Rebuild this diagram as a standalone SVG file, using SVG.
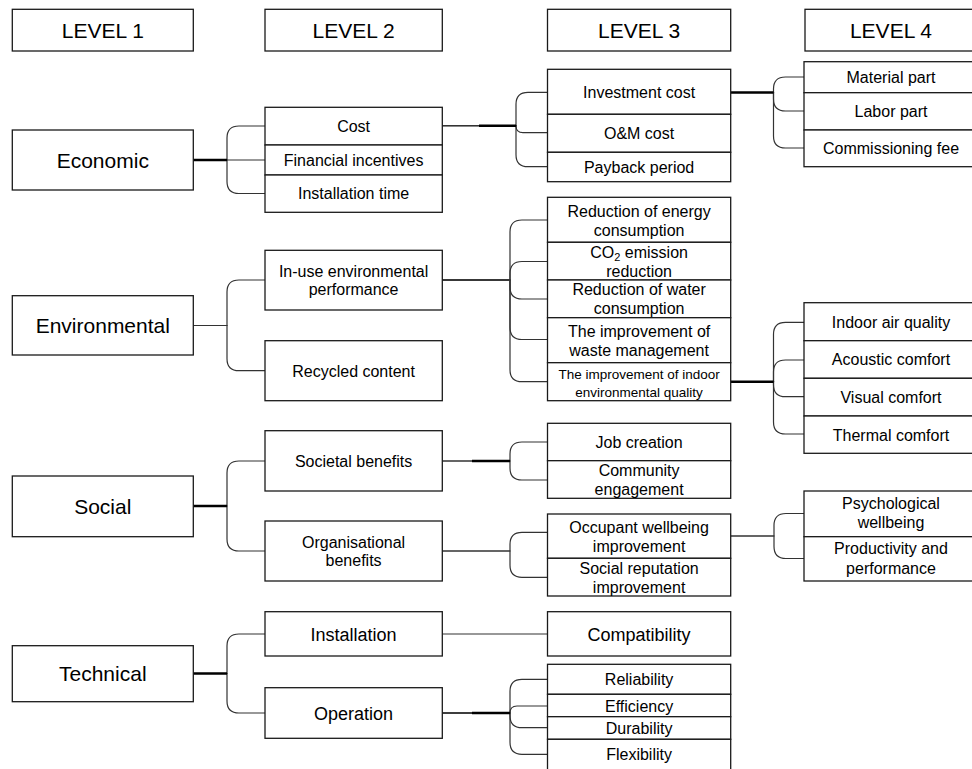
<svg xmlns="http://www.w3.org/2000/svg" width="972" height="769" viewBox="0 0 972 769">
<style>
.box{fill:#fff;stroke:#1a1a1a;stroke-width:1.3}
.t{font-family:"Liberation Sans",Arial,sans-serif;fill:#000;text-anchor:middle}
.h{font-size:21px}
.l1{font-size:21px}
.m{font-size:16px}
.b{font-size:18px}
.s{font-size:13.5px}
.c{fill:none;stroke:#333;stroke-width:1.2}
.k{fill:none;stroke:#000;stroke-width:2.4}
</style>
<rect width="972" height="769" fill="#fff"/>
<g id="connectors">
<path class="c" d="M193 160 H227 V138 Q227 126 239 126 H265"/>
<path class="c" d="M193 160 H265"/>
<path class="c" d="M193 160 H227 V181.5 Q227 193.5 239 193.5 H265"/>
<path class="c" d="M193 325.5 H227 V292 Q227 280 239 280 H265"/>
<path class="c" d="M193 325.5 H227 V358.7 Q227 370.7 239 370.7 H265"/>
<path class="c" d="M193 506 H227 V473 Q227 461 239 461 H265"/>
<path class="c" d="M193 506 H227 V539 Q227 551 239 551 H265"/>
<path class="c" d="M193 673.5 H227 V646 Q227 634 239 634 H265"/>
<path class="c" d="M193 673.5 H227 V701 Q227 713 239 713 H265"/>
<path class="c" d="M442 125.7 H516 V104.3 Q516 92.3 528 92.3 H547.5"/>
<path class="c" d="M442 125.7 H516 Q516 132.7 523 132.7 H547.5"/>
<path class="c" d="M442 125.7 H516 V154.7 Q516 166.7 528 166.7 H547.5"/>
<path class="c" d="M442 280 H510 V232 Q510 220 522 220 H547.5"/>
<path class="c" d="M442 280 H510 V273.5 Q510 261.5 522 261.5 H547.5"/>
<path class="c" d="M442 280 H510 V287 Q510 299 522 299 H547.5"/>
<path class="c" d="M442 280 H510 V327.5 Q510 339.5 522 339.5 H547.5"/>
<path class="c" d="M442 280 H510 V369.7 Q510 381.7 522 381.7 H547.5"/>
<path class="c" d="M442 461 H510 V454 Q510 442 522 442 H547.5"/>
<path class="c" d="M442 461 H510 V468 Q510 480 522 480 H547.5"/>
<path class="c" d="M442 551 H510 V544.3 Q510 532.3 522 532.3 H547.5"/>
<path class="c" d="M442 551 H510 V565.3 Q510 577.3 522 577.3 H547.5"/>
<path class="c" d="M442 634 H547.5"/>
<path class="c" d="M442 713 H510 V691.3 Q510 679.3 522 679.3 H547.5"/>
<path class="c" d="M442 713 H510 Q510 706 517 706 H547.5"/>
<path class="c" d="M442 713 H510 V715.7 Q510 727.7 522 727.7 H547.5"/>
<path class="c" d="M442 713 H510 V742.3 Q510 754.3 522 754.3 H547.5"/>
<path class="c" d="M730.7 92.5 H773.5 V89 Q773.5 77 785.5 77 H804"/>
<path class="c" d="M730.7 92.5 H773.5 V99 Q773.5 111 785.5 111 H804"/>
<path class="c" d="M730.7 92.5 H773.5 V136 Q773.5 148 785.5 148 H804"/>
<path class="c" d="M730.7 381.7 H773.5 V334.3 Q773.5 322.3 785.5 322.3 H804"/>
<path class="c" d="M730.7 381.7 H773.5 V372 Q773.5 360 785.5 360 H804"/>
<path class="c" d="M730.7 381.7 H773.5 V384.7 Q773.5 396.7 785.5 396.7 H804"/>
<path class="c" d="M730.7 381.7 H773.5 V422 Q773.5 434 785.5 434 H804"/>
<path class="c" d="M730.7 536 H774 V525.5 Q774 513.5 786 513.5 H804"/>
<path class="c" d="M730.7 536 H774 V546.5 Q774 558.5 786 558.5 H804"/>
<path class="k" d="M193 160 H227 M193 506 H227 M193 673.5 H227 M479 125.7 H516 M472 461 H510 M472 713 H510 M730.7 92.5 H773.5 M730.7 381.7 H773.5"/>
</g>
<g id="hdr1"><rect class="box" x="12.3" y="9.3" width="181" height="41.7"/><text class="t h" x="102.8" y="37.6">LEVEL 1</text></g>
<g id="hdr2"><rect class="box" x="265" y="9.3" width="177.3" height="41.7"/><text class="t h" x="353.6" y="37.6">LEVEL 2</text></g>
<g id="hdr3"><rect class="box" x="547.5" y="9.3" width="183.2" height="41.7"/><text class="t h" x="639.1" y="37.6">LEVEL 3</text></g>
<g id="hdr4"><rect class="box" x="805" y="9.3" width="175" height="41.7"/><text class="t h" x="891" y="37.6">LEVEL 4</text></g>
<g id="economic"><rect class="box" x="12.3" y="130" width="181" height="60"/><text class="t l1" x="102.8" y="167.5">Economic</text></g>
<g id="environmental"><rect class="box" x="12.3" y="295.7" width="181" height="59.3"/><text class="t l1" x="102.8" y="333">Environmental</text></g>
<g id="social"><rect class="box" x="12.3" y="476" width="181" height="60.7"/><text class="t l1" x="102.8" y="513.5">Social</text></g>
<g id="technical"><rect class="box" x="12.3" y="645.7" width="181" height="56"/><text class="t l1" x="102.8" y="681">Technical</text></g>
<g id="cost"><rect class="box" x="265" y="107.3" width="177.3" height="37.7"/><text class="t m" x="353.6" y="131.8">Cost</text></g>
<g id="financial"><rect class="box" x="265" y="145" width="177.3" height="30"/><text class="t m" x="353.6" y="165.8">Financial incentives</text></g>
<g id="installtime"><rect class="box" x="265" y="175" width="177.3" height="37.3"/><text class="t m" x="353.6" y="199.3">Installation time</text></g>
<g id="inuse"><rect class="box" x="265" y="250.3" width="177.3" height="59.7"/><text class="t m" x="353.6" y="276.8">In-use environmental</text><text class="t m" x="353.6" y="294.8">performance</text></g>
<g id="recycled"><rect class="box" x="265" y="340.7" width="177.3" height="60"/><text class="t m" x="353.6" y="376.5">Recycled content</text></g>
<g id="societal"><rect class="box" x="265" y="430.7" width="177.3" height="60.3"/><text class="t m" x="353.6" y="466.8">Societal benefits</text></g>
<g id="organisational"><rect class="box" x="265" y="521" width="177.3" height="60"/><text class="t m" x="353.6" y="547.5">Organisational</text><text class="t m" x="353.6" y="565.8">benefits</text></g>
<g id="installation"><rect class="box" x="265" y="611.7" width="177.3" height="44.3"/><text class="t b" x="353.6" y="640.5">Installation</text></g>
<g id="operation"><rect class="box" x="265" y="687.7" width="177.3" height="50.6"/><text class="t b" x="353.6" y="719.5">Operation</text></g>
<g id="investment"><rect class="box" x="547.5" y="69.3" width="183.2" height="45"/><text class="t m" x="639.1" y="97.8">Investment cost</text></g>
<g id="om"><rect class="box" x="547.5" y="114.3" width="183.2" height="38"/><text class="t m" x="639.1" y="138.8">O&amp;M cost</text></g>
<g id="payback"><rect class="box" x="547.5" y="152.3" width="183.2" height="29.4"/><text class="t m" x="639.1" y="172.5">Payback period</text></g>
<g id="energy"><rect class="box" x="547.5" y="197.3" width="183.2" height="45"/><text class="t m" x="639.1" y="216.5">Reduction of energy</text><text class="t m" x="639.1" y="235.8">consumption</text></g>
<g id="co2"><rect class="box" x="547.5" y="242.3" width="183.2" height="37.7"/><text class="t m" x="639.1" y="257.5">CO<tspan font-size="11" dy="3">2</tspan><tspan dy="-3"> emission</tspan></text><text class="t m" x="639.1" y="276.5">reduction</text></g>
<g id="water"><rect class="box" x="547.5" y="280" width="183.2" height="37.7"/><text class="t m" x="639.1" y="294.8">Reduction of water</text><text class="t m" x="639.1" y="314.1">consumption</text></g>
<g id="waste"><rect class="box" x="547.5" y="317.7" width="183.2" height="45"/><text class="t m" x="639.1" y="336.5">The improvement of</text><text class="t m" x="639.1" y="355.8">waste management</text></g>
<g id="ieq"><rect class="box" x="547.5" y="362.7" width="183.2" height="38"/><text class="t s" x="639.1" y="379.2">The improvement of indoor</text><text class="t s" x="639.1" y="397.2">environmental quality</text></g>
<g id="job"><rect class="box" x="547.5" y="423.3" width="183.2" height="37.4"/><text class="t m" x="639.1" y="447.8">Job creation</text></g>
<g id="community"><rect class="box" x="547.5" y="460.7" width="183.2" height="37.6"/><text class="t m" x="639.1" y="475.8">Community</text><text class="t m" x="639.1" y="494.8">engagement</text></g>
<g id="occupant"><rect class="box" x="547.5" y="514" width="183.2" height="44.3"/><text class="t m" x="639.1" y="533.1">Occupant wellbeing</text><text class="t m" x="639.1" y="551.8">improvement</text></g>
<g id="reputation"><rect class="box" x="547.5" y="558.3" width="183.2" height="37.7"/><text class="t m" x="639.1" y="573.5">Social reputation</text><text class="t m" x="639.1" y="592.5">improvement</text></g>
<g id="compatibility"><rect class="box" x="547.5" y="611.7" width="183.2" height="44.3"/><text class="t b" x="639.1" y="640.5">Compatibility</text></g>
<g id="reliability"><rect class="box" x="547.5" y="664.3" width="183.2" height="30"/><text class="t m" x="639.1" y="685.1">Reliability</text></g>
<g id="efficiency"><rect class="box" x="547.5" y="694.3" width="183.2" height="22.4"/><text class="t m" x="639.1" y="711.8">Efficiency</text></g>
<g id="durability"><rect class="box" x="547.5" y="716.7" width="183.2" height="22.6"/><text class="t m" x="639.1" y="733.5">Durability</text></g>
<g id="flexibility"><rect class="box" x="547.5" y="739.3" width="183.2" height="35"/><text class="t m" x="639.1" y="760.1">Flexibility</text></g>
<g id="material"><rect class="box" x="804" y="61.7" width="176" height="31"/><text class="t m" x="891" y="83.1">Material part</text></g>
<g id="labor"><rect class="box" x="804" y="92.7" width="176" height="37.3"/><text class="t m" x="891" y="116.8">Labor part</text></g>
<g id="commissioning"><rect class="box" x="804" y="130" width="176" height="36.7"/><text class="t m" x="891" y="153.5">Commissioning fee</text></g>
<g id="iaq"><rect class="box" x="804" y="302.7" width="176" height="38"/><text class="t m" x="891" y="327.8">Indoor air quality</text></g>
<g id="acoustic"><rect class="box" x="804" y="340.7" width="176" height="37.6"/><text class="t m" x="891" y="365.3">Acoustic comfort</text></g>
<g id="visual"><rect class="box" x="804" y="378.3" width="176" height="37.7"/><text class="t m" x="891" y="402.8">Visual comfort</text></g>
<g id="thermal"><rect class="box" x="804" y="416" width="176" height="37.3"/><text class="t m" x="891" y="440.8">Thermal comfort</text></g>
<g id="psychological"><rect class="box" x="804" y="491" width="176" height="45.7"/><text class="t m" x="891" y="509.1">Psychological</text><text class="t m" x="891" y="528.1">wellbeing</text></g>
<g id="productivity"><rect class="box" x="804" y="536.7" width="176" height="44.3"/><text class="t m" x="891" y="554.1">Productivity and</text><text class="t m" x="891" y="573.5">performance</text></g>
</svg>
